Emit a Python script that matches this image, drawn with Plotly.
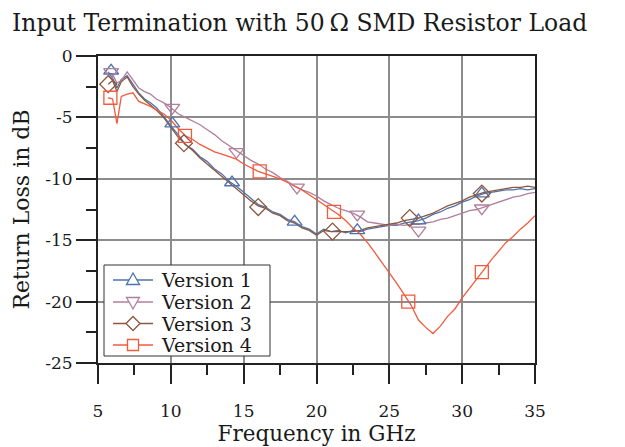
import plotly.graph_objects as go

# ---------------- data ----------------
freq_ghz = [5.7, 6.0, 6.3, 6.6, 7.0, 7.4, 7.8, 8.2, 8.6, 9.0, 9.5, 10.0, 10.5, 11.0, 11.5,
            12.0, 12.5, 13.0, 13.5, 14.0, 14.5, 15.0, 15.5, 16.0, 16.5, 17.0, 17.5, 18.0,
            18.5, 19.0, 19.5, 20.0, 20.5, 21.0, 21.5, 22.0, 22.5, 23.0, 23.5, 24.0, 24.5,
            25.0, 25.5, 26.0, 26.5, 27.0, 27.5, 28.0, 28.5, 29.0, 29.5, 30.0, 30.5, 31.0,
            31.5, 32.0, 32.5, 33.0, 33.5, 34.0, 34.5, 35.0]

v1_db = [-1.3, -1.8, -2.6, -1.9, -1.6, -2.3, -3.0, -3.5, -3.8, -4.2, -4.9, -5.7, -6.4, -7.2,
         -7.6, -8.2, -8.6, -9.2, -9.6, -10.2, -10.6, -11.1, -11.6, -12.1, -12.3, -12.7, -12.9,
         -13.3, -13.5, -13.9, -14.1, -14.5, -14.1, -14.3, -14.2, -14.4, -14.2, -14.3, -14.1,
         -14.0, -13.9, -13.8, -13.8, -13.6, -13.5, -13.4, -13.2, -12.9, -12.7, -12.4, -12.2,
         -11.9, -11.7, -11.4, -11.2, -11.1, -11.0, -10.9, -10.9, -10.8, -10.9, -10.8]

v2_db = [-1.4, -1.5, -2.2, -2.0, -1.3, -2.0, -2.6, -2.9, -3.1, -3.5, -3.8, -4.2, -4.7, -5.0,
         -5.3, -5.6, -6.0, -6.4, -6.9, -7.3, -7.7, -8.1, -8.5, -8.8, -9.2, -9.5, -9.9, -10.2,
         -10.6, -10.9, -11.1, -11.4, -11.8, -12.1, -12.4, -12.6, -12.8, -13.1, -13.5, -13.6,
         -13.7, -13.8, -13.7, -13.8, -13.7, -13.7, -13.6, -13.5, -13.3, -13.2, -13.0, -12.8,
         -12.6, -12.5, -12.3, -12.1, -11.9, -11.7, -11.5, -11.4, -11.2, -11.1]

v3_db = [-2.3, -2.0, -2.9, -2.1, -1.7, -2.5, -3.1, -3.6, -4.0, -4.4, -5.0, -5.8, -6.6, -7.2,
         -7.7, -8.3, -8.8, -9.3, -9.8, -10.3, -10.8, -11.3, -11.8, -12.2, -12.4, -12.8, -13.0,
         -13.4, -13.6, -14.0, -14.2, -14.6, -14.2, -14.3, -14.3, -14.3, -14.3, -14.2, -14.0,
         -13.9, -13.8, -13.7, -13.6, -13.4, -13.3, -13.2, -13.0, -12.8, -12.5, -12.2, -12.0,
         -11.8, -11.5, -11.3, -11.1, -11.0, -10.9, -10.8, -10.7, -10.7, -10.6, -10.7]

v4_db = [-3.4, -3.5, -5.5, -3.3, -3.1, -3.0, -3.7, -3.9, -4.1, -4.4, -4.7, -5.2, -5.9, -6.5,
         -6.8, -7.2, -7.5, -7.8, -8.0, -8.2, -8.4, -8.8, -9.1, -9.4, -9.6, -9.8, -10.0, -10.3,
         -10.6, -10.9, -11.3, -11.7, -12.1, -12.5, -12.9, -13.4, -14.0, -14.5, -15.2, -16.0,
         -16.8, -17.6, -18.5, -19.4, -20.3, -21.5, -22.1, -22.6, -22.0, -21.2, -20.6, -19.7,
         -18.9, -18.2, -17.4, -16.6, -15.9, -15.2, -14.7, -14.1, -13.6, -13.0]

# marker positions
v1_mk_f = [5.9, 10.1, 14.2, 18.5, 22.8, 27.0, 31.35]
v1_mk_db = [-1.2, -5.5, -10.3, -13.5, -14.2, -13.4, -11.2]
v2_mk_f = [5.9, 10.1, 14.5, 18.66, 22.8, 27.0, 31.35]
v2_mk_db = [-1.3, -4.2, -7.8, -10.7, -12.9, -14.2, -12.4]
v3_mk_f = [5.7, 10.9, 16.0, 21.1, 26.4, 31.35]
v3_mk_db = [-2.3, -7.1, -12.3, -14.3, -13.2, -11.2]
v4_mk_f = [5.85, 10.97, 16.1, 21.2, 26.3, 31.35]
v4_mk_db = [-3.4, -6.5, -9.4, -12.7, -20.0, -17.6]

series_names = ["Version 1", "Version 2", "Version 3", "Version 4"]
x_tick_vals = [5, 10, 15, 20, 25, 30, 35]
x_tick_text = ["5", "10", "15", "20", "25", "30", "35"]
y_tick_vals = [0, -5, -10, -15, -20, -25]
y_tick_text = ["0", "-5", "-10", "-15", "-20", "-25"]

# ---------------- styling ----------------
colors = ["#4f72aa", "#b07f9c", "#8a5840", "#f25a3c"]
symbols = ["triangle-up-open", "triangle-down-open", "diamond-open", "square-open"]
FONT = "DejaVu Serif"
TXT = "#1a1a1a"

# page body has an 8px default margin; size the figure so it fits the 625x447 window
OFF = 8
W, H = 617, 439
ML, MR, MT, MB = 90, 90, 48, 84
PW, PH = W - ML - MR, H - MT - MB


def paper_x(px):
    return (px - OFF - ML) / PW


def paper_y(py):
    return (H - MB - (py - OFF)) / PH


lines = [v1_db, v2_db, v3_db, v4_db]
mk_f = [v1_mk_f, v2_mk_f, v3_mk_f, v4_mk_f]
mk_db = [v1_mk_db, v2_mk_db, v3_mk_db, v4_mk_db]

fig = go.Figure()
for i in range(4):
    fig.add_trace(go.Scatter(x=freq_ghz, y=lines[i], mode="lines", name=series_names[i],
                             showlegend=False, line=dict(color=colors[i], width=1.3),
                             hoverinfo="skip"))
for i in range(4):
    fig.add_trace(go.Scatter(x=mk_f[i], y=mk_db[i], mode="markers", name=series_names[i],
                             showlegend=False,
                             marker=dict(symbol=symbols[i], size=13, color=colors[i],
                                         line=dict(width=1.3, color=colors[i]))))

# ---------------- legend box (drawn as layout decorations) ----------------
marker_paths = [
    "M-6.5,-4.5 L6.5,-4.5 L0,7 Z",      # triangle up
    "M-6.5,4.5 L6.5,4.5 L0,-7 Z",       # triangle down
    "M-7,0 L0,7 L7,0 L0,-7 Z",          # diamond
    "M-5.5,-5.5 L5.5,-5.5 L5.5,5.5 L-5.5,5.5 Z",  # square
]
row_px = [280, 302, 323.5, 345]
shapes = [dict(type="rect", xref="paper", yref="paper", layer="above",
               x0=paper_x(104), x1=paper_x(270), y0=paper_y(356), y1=paper_y(265),
               line=dict(color="#333", width=1), fillcolor="white")]
annotations = []
for i in range(4):
    yy = paper_y(row_px[i])
    shapes.append(dict(type="line", xref="paper", yref="paper", layer="above",
                       x0=paper_x(113), x1=paper_x(153), y0=yy, y1=yy,
                       line=dict(color=colors[i], width=1.3)))
    shapes.append(dict(type="path", xref="paper", yref="paper", layer="above",
                       xsizemode="pixel", ysizemode="pixel",
                       xanchor=paper_x(133), yanchor=yy, path=marker_paths[i],
                       fillcolor="white", line=dict(color=colors[i], width=1.3)))
    annotations.append(dict(x=paper_x(159), y=yy, xref="paper", yref="paper",
                            xanchor="left", yanchor="middle", showarrow=False,
                            text=series_names[i],
                            font=dict(family=FONT, size=19, color=TXT)))

fig.update_layout(
    width=W, height=H,
    margin=dict(l=ML, r=MR, t=MT, b=MB),
    paper_bgcolor="white", plot_bgcolor="white",
    font=dict(family=FONT, color=TXT, size=16),
    title=dict(text="Input Termination with 50\u2009\u03a9 SMD Resistor Load",
               xref="container", x=(12 - OFF) / W, xanchor="left",
               yref="container", y=1 - (23 - OFF) / H, yanchor="middle",
               font=dict(family=FONT, size=23.5, color=TXT)),
    showlegend=False,
    shapes=shapes,
    annotations=annotations,
)
fig.update_xaxes(range=[5, 35], tickvals=x_tick_vals, ticktext=x_tick_text, automargin=False,
                 ticks="outside", ticklen=19, tickwidth=1.5, tickcolor="#222",
                 ticklabelstandoff=13,
                 showline=True, linecolor="#222", linewidth=2, mirror=True,
                 showgrid=True, gridcolor="#8c8c8c", gridwidth=1.5, zeroline=False,
                 minor=dict(ticks="outside", ticklen=10, tickwidth=1.5, tickcolor="#222",
                            dtick=2.5, showgrid=False),
                 tickfont=dict(family=FONT, size=17, color=TXT),
                 title=dict(text="Frequency in GHz", standoff=0,
                            font=dict(family=FONT, size=21.5, color=TXT)))
fig.update_yaxes(range=[-25, 0], tickvals=y_tick_vals, ticktext=y_tick_text, automargin=False,
                 ticks="outside", ticklen=20, tickwidth=1.5, tickcolor="#222",
                 showline=True, linecolor="#222", linewidth=2, mirror=True,
                 showgrid=True, gridcolor="#8c8c8c", gridwidth=1.5, zeroline=False,
                 minor=dict(ticks="outside", ticklen=10, tickwidth=1.5, tickcolor="#222",
                            dtick=2.5, showgrid=False),
                 tickfont=dict(family=FONT, size=17, color=TXT),
                 title=dict(text="Return Loss in dB", standoff=10,
                            font=dict(family=FONT, size=22, color=TXT)))

fig.write_html("out.html")
